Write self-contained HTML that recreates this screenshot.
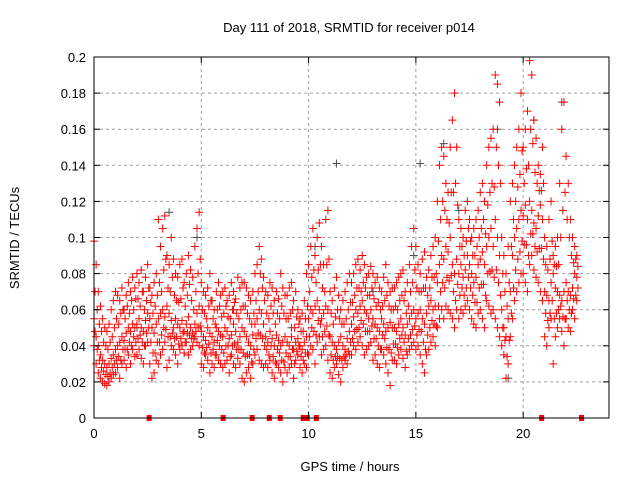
<!DOCTYPE html>
<html><head><meta charset="utf-8"><style>
html,body{margin:0;padding:0;background:#fff;}
svg{display:block;font-family:"Liberation Sans",sans-serif;}
</style></head><body>
<svg id="chart" width="640" height="480" viewBox="0 0 640 480" xmlns="http://www.w3.org/2000/svg">
<rect x="0" y="0" width="640" height="480" fill="#fff"/>
<text x="349" y="32" font-size="13" text-anchor="middle" fill="#000">Day 111 of 2018, SRMTID for receiver p014</text>
<text transform="translate(19,238) rotate(-90)" font-size="13" text-anchor="middle" fill="#000">SRMTID / TECUs</text>
<text x="350" y="471" font-size="13" text-anchor="middle" fill="#000">GPS time / hours</text>
<g id="grid"></g><g id="marks"></g><g id="axes"></g>
</svg>
<script>
const xTicks=[0,5,10,15,20];
const yTicks=[0,0.02,0.04,0.06,0.08,0.1,0.12,0.14,0.16,0.18,0.2];
const yTickLabels=["0","0.02","0.04","0.06","0.08","0.1","0.12","0.14","0.16","0.18","0.2"];
const hours=[0,0.1,0.2,0.3,0.4,0.5,0.6,0.7,0.8,0.9,1,1.1,1.2,1.3,1.4,1.5,1.6,1.7,1.8,1.9,2,2.1,2.2,2.3,2.4,2.5,2.6,2.7,2.8,2.9,3,3.1,3.2,3.3,3.4,3.5,3.6,3.7,3.8,3.9,4,4.1,4.2,4.3,4.4,4.5,4.6,4.7,4.8,4.9,5,5.1,5.2,5.3,5.4,5.5,5.6,5.7,5.8,5.9,6,6.1,6.2,6.3,6.4,6.5,6.6,6.7,6.8,6.9,7,7.1,7.2,7.3,7.4,7.5,7.6,7.7,7.8,7.9,8,8.1,8.2,8.3,8.4,8.5,8.6,8.7,8.8,8.9,9,9.1,9.2,9.3,9.4,9.5,9.6,9.7,9.8,9.9,10,10.1,10.2,10.3,10.4,10.5,10.6,10.7,10.8,10.9,11,11.1,11.2,11.3,11.4,11.5,11.6,11.7,11.8,11.9,12,12.1,12.2,12.3,12.4,12.5,12.6,12.7,12.8,12.9,13,13.1,13.2,13.3,13.4,13.5,13.6,13.7,13.8,13.9,14,14.1,14.2,14.3,14.4,14.5,14.6,14.7,14.8,14.9,15,15.1,15.2,15.3,15.4,15.5,15.6,15.7,15.8,15.9,16,16.1,16.2,16.3,16.4,16.5,16.6,16.7,16.8,16.9,17,17.1,17.2,17.3,17.4,17.5,17.6,17.7,17.8,17.9,18,18.1,18.2,18.3,18.4,18.5,18.6,18.7,18.8,18.9,19,19.1,19.2,19.3,19.4,19.5,19.6,19.7,19.8,19.9,20,20.1,20.2,20.3,20.4,20.5,20.6,20.7,20.8,20.9,21,21.1,21.2,21.3,21.4,21.5,21.6,21.7,21.8,21.9,22,22.1,22.2,22.3,22.4,22.5];
const hoursOff=[0.05,0.15,0.25,0.35,0.45,0.55,0.65,0.75,0.85,0.95,1.05,1.15,1.25,1.35,1.45,1.55,1.65,1.75,1.85,1.95,2.05,2.15,2.25,2.35,2.45,2.55,2.65,2.75,2.85,2.95,3.05,3.15,3.25,3.35,3.45,3.55,3.65,3.75,3.85,3.95,4.05,4.15,4.25,4.35,4.45,4.55,4.65,4.75,4.85,4.95,5.05,5.15,5.25,5.35,5.45,5.55,5.65,5.75,5.85,5.95,6.05,6.15,6.25,6.35,6.45,6.55,6.65,6.75,6.85,6.95,7.05,7.15,7.25,7.35,7.45,7.55,7.65,7.75,7.85,7.95,8.05,8.15,8.25,8.35,8.45,8.55,8.65,8.75,8.85,8.95,9.05,9.15,9.25,9.35,9.45,9.55,9.65,9.75,9.85,9.95,10.05,10.15,10.25,10.35,10.45,10.55,10.65,10.75,10.85,10.95,11.05,11.15,11.25,11.35,11.45,11.55,11.65,11.75,11.85,11.95,12.05,12.15,12.25,12.35,12.45,12.55,12.65,12.75,12.85,12.95,13.05,13.15,13.25,13.35,13.45,13.55,13.65,13.75,13.85,13.95,14.05,14.15,14.25,14.35,14.45,14.55,14.65,14.75,14.85,14.95,15.05,15.15,15.25,15.35,15.45,15.55,15.65,15.75,15.85,15.95,16.05,16.15,16.25,16.35,16.45,16.55,16.65,16.75,16.85,16.95,17.05,17.15,17.25,17.35,17.45,17.55,17.65,17.75,17.85,17.95,18.05,18.15,18.25,18.35,18.45,18.55,18.65,18.75,18.85,18.95,19.05,19.15,19.25,19.35,19.45,19.55,19.65,19.75,19.85,19.95,20.05,20.15,20.25,20.35,20.45,20.55,20.65,20.75,20.85,20.95,21.05,21.15,21.25,21.35,21.45,21.55,21.65,21.75,21.85,21.95,22.05,22.15,22.25,22.35,22.45,22.55];
// values in milli-TECU
const tecA=[55,45,40,35,32,30,28,30,33,35,38,40,42,45,43,47,50,48,52,50,52,55,50,48,54,58,55,50,47,52,55,58,60,56,62,58,54,50,55,52,50,54,48,52,56,50,47,52,58,62,48,45,43,50,47,45,42,50,48,46,45,50,48,44,46,52,48,42,45,50,48,45,42,40,46,52,55,60,58,52,45,42,48,44,40,46,43,40,42,45,42,40,45,38,42,44,40,38,42,45,55,60,58,62,65,60,55,58,62,60,45,42,40,38,42,45,40,38,44,48,52,56,60,58,62,65,60,58,55,60,55,52,50,48,55,52,48,50,53,50,50,48,52,55,50,46,52,55,58,60,55,58,60,55,52,58,62,65,60,62,75,85,90,88,95,92,100,85,80,88,80,85,78,82,90,85,80,75,78,85,88,92,85,95,100,105,95,110,100,90,60,50,45,55,70,90,100,105,110,115,112,118,110,120,115,108,105,112,118,110,70,68,65,75,80,72,70,68,65,70,75,70,68,72,80,78];
const tecB=[98,85,70,62,55,50,48,52,60,65,70,68,65,72,60,68,75,70,78,72,80,75,82,70,78,85,72,68,75,80,110,95,105,112,90,85,100,88,80,78,85,88,75,80,90,82,78,95,105,114,75,70,68,72,80,65,60,70,75,68,70,72,65,68,75,70,66,78,72,75,75,72,68,65,70,80,85,95,88,78,70,68,75,72,65,70,66,80,72,68,68,72,75,65,70,60,55,58,65,80,85,95,105,90,100,108,95,85,110,115,70,65,72,78,68,60,65,70,75,80,75,80,85,88,82,90,85,78,80,84,80,75,78,72,70,78,85,75,70,72,72,75,78,80,82,70,75,85,95,105,95,85,80,88,92,78,82,90,95,100,120,140,150,145,130,125,150,165,180,150,110,105,100,115,120,110,100,105,110,115,125,130,120,140,150,155,160,190,185,175,100,90,80,95,120,130,140,150,160,180,150,160,170,198,190,165,155,140,135,150,100,95,110,120,90,95,100,130,160,175,145,130,110,100,95,90];
const tecC=[40,30,25,22,20,19,18,20,22,24,25,28,22,30,32,28,35,30,38,34,35,38,33,30,40,42,30,22,25,32,30,35,38,42,28,32,40,38,35,30,38,40,36,42,35,38,40,45,42,40,30,28,35,32,25,30,28,35,32,30,28,30,32,25,35,30,28,33,30,22,20,25,28,22,30,35,38,32,30,28,30,28,32,25,22,30,28,25,20,28,25,28,30,22,32,35,28,25,30,28,35,40,38,30,42,45,35,38,40,32,25,22,28,30,24,20,28,32,30,35,35,40,38,42,45,40,35,38,40,42,32,35,30,28,38,35,30,25,18,32,32,30,35,38,33,28,35,38,40,42,38,40,35,30,25,35,38,42,45,40,50,55,60,55,62,60,58,55,50,60,55,60,58,62,65,60,55,52,50,58,60,55,50,65,62,58,60,55,50,45,40,35,22,30,45,55,65,70,75,80,80,75,70,85,90,82,78,75,70,65,45,40,50,55,30,45,50,55,48,40,55,50,48,60,55,65];
const tecD=[70,60,52,48,42,40,38,42,45,50,55,52,58,60,55,62,58,65,60,66,66,62,70,60,65,72,64,58,62,68,75,70,82,88,72,70,78,68,65,64,66,72,62,68,74,65,60,70,80,88,60,58,55,62,65,55,52,60,62,56,58,62,56,55,60,64,58,55,60,62,62,58,55,52,58,65,70,80,72,65,58,55,62,58,52,58,55,62,58,55,55,58,60,50,56,52,48,48,55,62,70,78,82,75,82,85,72,70,85,88,58,52,56,60,55,52,52,55,60,64,64,68,72,72,70,75,72,68,68,72,66,62,64,60,62,65,68,62,60,60,62,60,65,68,65,58,62,70,75,82,72,70,70,72,72,68,72,78,78,80,98,110,120,115,110,108,125,125,130,118,95,95,90,98,105,98,90,90,95,100,105,110,102,118,125,130,128,150,140,130,80,70,62,75,95,110,120,128,135,148,130,138,140,160,152,136,130,126,126,130,85,82,88,98,85,84,85,100,115,125,110,100,90,86,88,84];
const tecE=[48,38,32,28,26,24,23,25,28,30,32,34,32,38,38,38,42,40,45,42,44,46,42,40,47,50,42,36,36,42,42,46,50,49,45,45,47,44,45,41,44,47,42,47,46,44,44,48,50,51,39,36,39,41,36,38,35,43,40,38,36,40,40,34,40,41,38,38,38,36,34,35,35,31,38,44,47,46,44,40,38,35,40,34,31,38,36,32,31,36,34,34,38,30,37,40,34,32,36,36,45,50,48,46,54,52,45,48,51,46,35,32,34,34,33,32,34,35,37,42,44,48,49,50,54,52,48,48,48,51,44,44,40,38,46,44,39,38,36,41,41,39,44,46,42,37,44,46,49,51,46,49,48,42,38,46,50,54,52,51,62,70,75,72,78,76,79,70,65,74,68,72,68,72,78,72,68,64,64,72,74,74,68,80,81,82,78,82,75,68,50,43,34,43,58,72,82,88,92,98,96,96,90,102,102,95,92,94,94,88,58,54,58,65,55,58,60,62,56,55,65,60,58,66,68,72];
const grayHours=[2,3.5,4.8,6.5,9.2,10.3,11.3,13,14.9,15.2,16.3,17,18.8,19.3,20.5,21.8];
const grayVals=[0.05,0.114,0.1,0.06,0.05,0.095,0.141,0.07,0.09,0.141,0.152,0.115,0.16,0.022,0.165,0.175];
const zeroHours=[2.57,6.02,7.37,8.17,8.68,9.75,9.94,10.36,20.86,22.72];

const L=94,R=609,T=57,B=418,XMAX=24,YMAX=0.2;
const sx=h=>L+h/XMAX*(R-L);
const sy=v=>B-v/YMAX*(B-T);
const NS="http://www.w3.org/2000/svg";
function mk(tag,attrs,parent){const e=document.createElementNS(NS,tag);for(const k in attrs)e.setAttribute(k,attrs[k]);parent.appendChild(e);return e;}
const grid=document.getElementById('grid'),marks=document.getElementById('marks'),axes=document.getElementById('axes');
yTicks.forEach((v,i)=>{const y=sy(v);
 if(i>0&&i<yTicks.length-1){const g=mk('line',{x1:L,x2:R,y1:y,y2:y,stroke:'#a0a0a0','stroke-dasharray':'3,3','stroke-width':1},grid);
 
 }
 const t=mk('text',{x:L-8,y:y+5,'font-size':13,'text-anchor':'end',fill:'#000'},axes);t.textContent=yTickLabels[i];
 
 
 mk('line',{x1:L,x2:L+6,y1:y,y2:y,stroke:'#000'},axes);mk('line',{x1:R,x2:R-6,y1:y,y2:y,stroke:'#000'},axes);
});
xTicks.forEach(h=>{const x=sx(h);
 if(h>0){const g=mk('line',{x1:x,x2:x,y1:T,y2:B,stroke:'#a0a0a0','stroke-dasharray':'3,3','stroke-width':1},grid);
 
 }
 const t=mk('text',{x:x,y:B+20,'font-size':13,'text-anchor':'middle',fill:'#000'},axes);t.textContent=String(h);
 
 
 mk('line',{x1:x,x2:x,y1:B,y2:B-6,stroke:'#000'},axes);mk('line',{x1:x,x2:x,y1:T,y2:T+6,stroke:'#000'},axes);
});
const frame=mk('rect',{x:L,y:T,width:R-L,height:B-T,fill:'none',stroke:'#000','stroke-width':1},axes);


function plus(x,y,color,name){const p=mk('path',{d:`M${x-4},${y}H${x+4}M${x},${y-4}V${y+4}`,stroke:color,'stroke-width':1,fill:'none'},marks);
 
 }
grayHours.forEach((h,i)=>plus(sx(h),sy(grayVals[i]),'#505050','gray-point'));
[tecA,tecB,tecC].forEach(s=>s.forEach((v,i)=>plus(sx(hours[i]),sy(v/1000),'#ff0000','srmtid-point')));
[tecD,tecE].forEach(s=>s.forEach((v,i)=>plus(sx(hoursOff[i]),sy(v/1000),'#ff0000','srmtid-point')));
zeroHours.forEach(h=>{const r=mk('rect',{x:sx(h)-2.5,y:B-3,width:5,height:6,fill:'#ff0000'},marks);
 
 });
</script>
</body></html>
